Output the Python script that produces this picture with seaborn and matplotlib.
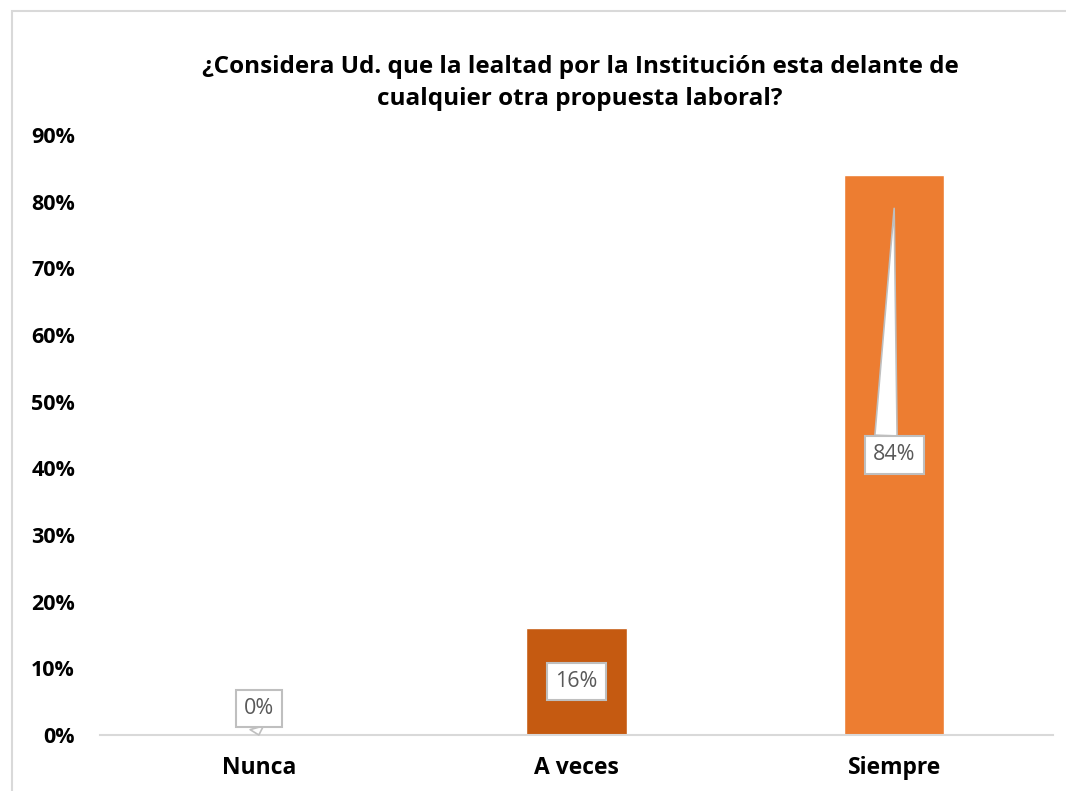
import matplotlib
matplotlib.use("Agg")
import matplotlib.pyplot as plt
import seaborn as sns
import pandas as pd
from matplotlib.patches import Rectangle

categories = ["Nunca", "A veces", "Siempre"]
values = [0, 16, 84]
value_labels = ["0%", "16%", "84%"]
colors = ["#ED7D31", "#C55A11", "#ED7D31"]
yticks = [0, 10, 20, 30, 40, 50, 60, 70, 80, 90]
ytick_labels = ["0%", "10%", "20%", "30%", "40%", "50%", "60%", "70%", "80%", "90%"]
title = ("¿Considera Ud. que la lealtad por la Institución esta delante de\n"
         "cualquier otra propuesta laboral?")

sns.set_theme(style="white")
plt.rcParams['font.family'] = ['Open Sans', 'DejaVu Sans']

W, H = 1066, 791
fig = plt.figure(figsize=(W / 100, H / 100), dpi=100)
fig.patch.set_facecolor("white")

# outer chart border (clipped at right/bottom like the reference)
fig.add_artist(Rectangle((12 / W, -0.05), 1.2, 1 - 11 / H + 0.05,
                         transform=fig.transFigure, fill=False,
                         edgecolor="#D9D9D9", linewidth=1.5))

ax = fig.add_axes([100 / W, 56 / H, 953 / W, 600 / H])
df = pd.DataFrame({"cat": categories, "val": values})
sns.barplot(data=df, x="cat", y="val", hue="cat", palette=colors,
            width=0.315, legend=False, ax=ax, saturation=1)

ax.set_xlim(-0.5, 2.5)
ax.set_ylim(0, 90)
ax.set_yticks(yticks)
ax.set_yticklabels(ytick_labels)
ax.set_xlabel("")
ax.set_ylabel("")
for s in ["top", "right", "left"]:
    ax.spines[s].set_visible(False)
ax.spines["bottom"].set_color("#D9D9D9")
ax.spines["bottom"].set_linewidth(1.5)
ax.tick_params(axis="y", length=0, pad=18, labelsize=15.5, labelcolor="black")
ax.tick_params(axis="x", length=0, pad=15, labelsize=16.5, labelcolor="black")
for t in ax.get_yticklabels() + ax.get_xticklabels():
    t.set_fontweight("bold")

# callout data labels
for i, (v, lab) in enumerate(zip(values, value_labels)):
    ty = max(v / 2, 4)
    if v >= 30:
        tip, relpos, tw = v - 5, (0.3, 1.0), 0.8
    elif v > 0:
        tip, relpos, tw = ty + 2.6, (0.5, 1.0), 0.3
    else:
        tip, relpos, tw = 0, (0.35, 0.0), 0.5
    ax.annotate(lab, xy=(i, tip), xytext=(i, ty), ha="center", va="center",
                fontsize=15.5, color="#595959",
                bbox=dict(boxstyle="square,pad=0.38", fc="white", ec="#BFBFBF", lw=1.5),
                arrowprops=dict(arrowstyle=f"wedge,tail_width={tw},shrink_factor=0.5",
                                fc="white", ec="#BFBFBF", lw=1.2, relpos=relpos,
                                shrinkA=0, shrinkB=0, mutation_scale=20),
                zorder=5)

fig.text(580 / W, 1 - 83 / H, title, ha="center", va="center",
         fontsize=17.5, fontweight="bold", color="black", linespacing=1.4)

fig.savefig("out.png", dpi=100, facecolor="white")
